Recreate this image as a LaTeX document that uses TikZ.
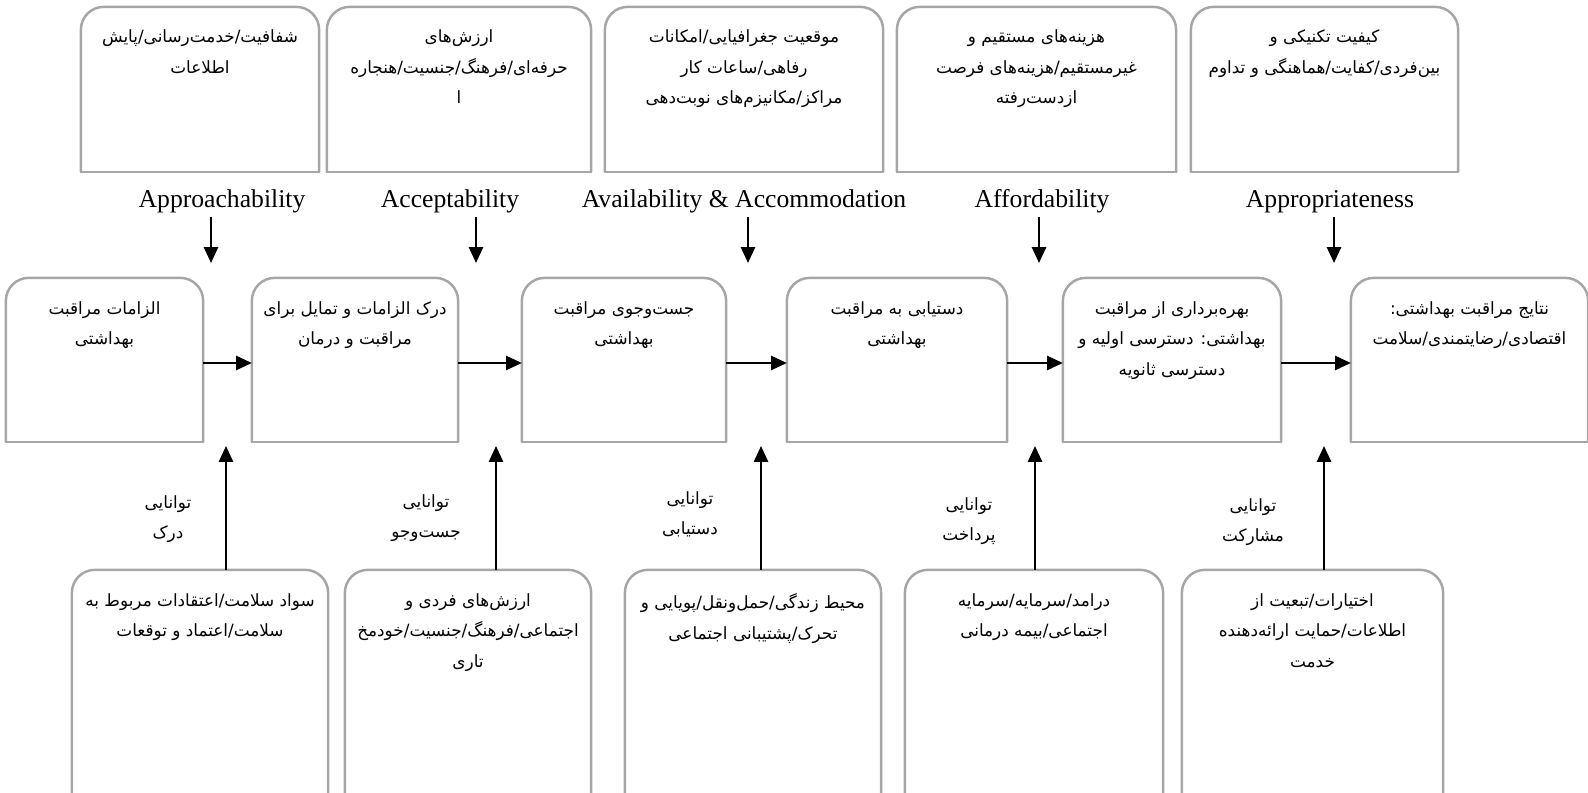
\documentclass[tikz,border=0pt]{standalone}
\usepackage{fontspec}
\setmainfont{Liberation Serif}
\newfontfamily\farsi[Script=Arabic]{DejaVu Sans}
\usetikzlibrary{positioning, arrows.meta}
\TeXXeTstate=1
\newcommand{\rl}[1]{\beginR #1\endR}
\definecolor{cardgray}{RGB}{166,166,166}

\begin{document}
\begin{tikzpicture}[x=0.02cm, y=-0.02cm, >={Triangle[length=9pt, width=8pt]}, line width=1.3pt,
    card/.style={rectangle, inner sep=0pt},
    toprow/.style={card, minimum height=3.26cm},
    midrow/.style={card, minimum height=3.24cm},
    lowrow/.style={card, minimum height=4.58cm},
    outline/.style={draw=cardgray, line width=1.4pt, rounded corners=13pt},
    txt/.style={font=\farsi\fontsize{9.6}{17.2}\selectfont, align=center, inner sep=0pt},
    dim/.style={font=\fontsize{14.6}{16}\selectfont, inner sep=1.5pt, anchor=base}]

    \useasboundingbox (0,0) rectangle (1588,793);

    % top row
    \node[toprow, minimum width=4.72cm] (t1) at (200,89.5) {};
    \node[toprow, minimum width=5.24cm] (t2) at (459,89.5) {};
    \node[toprow, minimum width=5.52cm] (t3) at (744,89.5) {};
    \node[toprow, minimum width=5.54cm] (t4) at (1036.5,89.5) {};
    \node[toprow, minimum width=5.3cm] (t5) at (1324.5,89.5) {};

    % middle row
    \node[midrow, minimum width=3.9cm] (m1) at (104.5,360) {};
    \node[midrow, minimum width=4.08cm] (m2) at (355,360) {};
    \node[midrow, minimum width=4.04cm] (m3) at (624,360) {};
    \node[midrow, minimum width=4.36cm] (m4) at (897,360) {};
    \node[midrow, minimum width=4.32cm] (m5) at (1172,360) {};
    \node[midrow, minimum width=4.7cm] (m6) at (1469.5,360) {};

    % bottom row
    \node[lowrow, minimum width=5.08cm] (b1) at (200,685.5) {};
    \node[lowrow, minimum width=4.88cm] (b2) at (468,685.5) {};
    \node[lowrow, minimum width=5.08cm] (b3) at (753,685.5) {};
    \node[lowrow, minimum width=5.12cm] (b4) at (1034,685.5) {};
    \node[lowrow, minimum width=5.18cm] (b5) at (1312.5,685.5) {};

    \foreach \n in {t1,t2,t3,t4,t5,m1,m2,m3,m4,m5,m6,b1,b2,b3,b4,b5}
        \draw[outline] (\n.south west) -- (\n.north west) -- (\n.north east) -- (\n.south east);
    \foreach \n in {t1,t2,t3,t4,t5,m1,m2,m3,m4,m5,m6}
        \draw[draw=cardgray, line width=1.4pt, line cap=rect] (\n.south west) -- (\n.south east);

    \node[txt, below=12.5pt of t1.north] (t1x) {\rl{شفافیت/خدمت^^^^200cرسانی/پایش}\\\rl{اطلاعات}};
    \node[txt, below=12.5pt of t2.north] (t2x) {\rl{ارزش^^^^200cهای}\\\rl{حرفه^^^^200cای/فرهنگ/جنسیت/هنجاره}\\\rl{ا}};
    \node[txt, below=12.5pt of t3.north] (t3x) {\rl{موقعیت جغرافیایی/امکانات}\\\rl{رفاهی/ساعات کار}\\\rl{مراکز/مکانیزم^^^^200cهای نوبت^^^^200cدهی}};
    \node[txt, below=12.5pt of t4.north] (t4x) {\rl{هزینه^^^^200cهای مستقیم و}\\\rl{غیرمستقیم/هزینه^^^^200cهای فرصت}\\\rl{ازدست^^^^200cرفته}};
    \node[txt, below=12.5pt of t5.north] (t5x) {\rl{کیفیت تکنیکی و}\\\rl{بین^^^^200cفردی/کفایت/هماهنگی و تداوم}};

    \node[txt, below=13pt of m1.north] (m1x) {\rl{الزامات مراقبت}\\\rl{بهداشتی}};
    \node[txt, below=13pt of m2.north] (m2x) {\rl{درک الزامات و تمایل برای}\\\rl{مراقبت و درمان}};
    \node[txt, below=13pt of m3.north] (m3x) {\rl{جست^^^^200cوجوی مراقبت}\\\rl{بهداشتی}};
    \node[txt, below=13pt of m4.north] (m4x) {\rl{دستیابی به مراقبت}\\\rl{بهداشتی}};
    \node[txt, below=13pt of m5.north] (m5x) {\rl{بهره^^^^200cبرداری از مراقبت}\\\rl{بهداشتی: دسترسی اولیه و}\\\rl{دسترسی ثانویه}};
    \node[txt, below=13pt of m6.north] (m6x) {\rl{نتایج مراقبت بهداشتی:}\\\rl{اقتصادی/رضایتمندی/سلامت}};

    \node[txt, below=13pt of b1.north] (b1x) {\rl{سواد سلامت/اعتقادات مربوط به}\\\rl{سلامت/اعتماد و توقعات}};
    \node[txt, below=13pt of b2.north] (b2x) {\rl{ارزش^^^^200cهای فردی و}\\\rl{اجتماعی/فرهنگ/جنسیت/خودمخ}\\\rl{تاری}};
    \node[txt, below=13pt of b3.north] (b3x) {\rl{محیط زندگی/حمل^^^^200cونقل/پویایی و}\\\rl{تحرک/پشتیبانی اجتماعی}};
    \node[txt, below=13pt of b4.north] (b4x) {\rl{درامد/سرمایه/سرمایه}\\\rl{اجتماعی/بیمه درمانی}};
    \node[txt, below=13pt of b5.north] (b5x) {\rl{اختیارات/تبعیت از}\\\rl{اطلاعات/حمایت ارائه^^^^200cدهنده}\\\rl{خدمت}};

    % dimensions
    \node[dim] (a1) at (222,208) {Approachability};
    \node[dim] (a2) at (450,208) {Acceptability};
    \node[dim] (a3) at (744,208) {Availability \& Accommodation};
    \node[dim] (a4) at (1042,208) {Affordability};
    \node[dim] (a5) at (1330,208) {Appropriateness};

    % abilities
    \node[txt] (k1) at (168,519) {\rl{توانایی}\\\rl{درک}};
    \node[txt] (k2) at (426,518) {\rl{توانایی}\\\rl{جست^^^^200cوجو}};
    \node[txt] (k3) at (690,514) {\rl{توانایی}\\\rl{دستیابی}};
    \node[txt] (k4) at (969,521) {\rl{توانایی}\\\rl{پرداخت}};
    \node[txt] (k5) at (1253,522) {\rl{توانایی}\\\rl{مشارکت}};

    \coordinate (d1) at (211,263);
    \coordinate (d2) at (476,263);
    \coordinate (d3) at (748,263);
    \coordinate (d4) at (1039,263);
    \coordinate (d5) at (1334,263);
    \coordinate (u1) at (226,446);
    \coordinate (u2) at (496,446);
    \coordinate (u3) at (761,446);
    \coordinate (u4) at (1035,446);
    \coordinate (u5) at (1324,446);

    \path[->]
    (a1.south -| d1) edge (d1)
    (a2.south -| d2) edge (d2)
    (a3.south -| d3) edge (d3)
    (a4.south -| d4) edge (d4)
    (a5.south -| d5) edge (d5)
    (b1.north -| u1) edge (u1)
    (b2.north -| u2) edge (u2)
    (b3.north -| u3) edge (u3)
    (b4.north -| u4) edge (u4)
    (b5.north -| u5) edge (u5);

    \foreach \a/\b in {m1/m2, m2/m3, m3/m4, m4/m5, m5/m6}
        \draw[->] ([yshift=-1.7pt]\a.east) -- ([yshift=-1.7pt]\b.west);
\end{tikzpicture}
\end{document}
